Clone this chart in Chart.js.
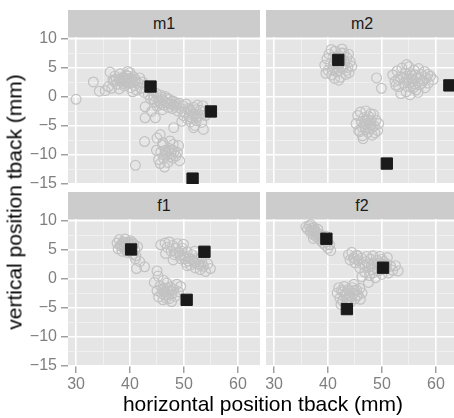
<!DOCTYPE html>
<html>
<head>
<meta charset="utf-8">
<script src="https://cdn.jsdelivr.net/npm/chart.js@4.4.1/dist/chart.umd.min.js"></script>
<style>
  html, body { margin: 0; padding: 0; background: #fff; overflow: hidden; width: 454px; height: 418px; }
  body { position: relative; font-family: "Liberation Sans", Arial, Helvetica, sans-serif; }
  canvas { position: absolute; }
  .strip { position: absolute; width: 192px; height: 27px; line-height: 28px; background: #cccccc;
           color: #1a1a1a; font-size: 16px; text-align: center; }
  .xtitle { position: absolute; left: 68px; width: 390px; top: 392px; text-align: center; font-size: 21px; color: #000; white-space: nowrap; }
  .ytitle { position: absolute; width: 329px; height: 24px; line-height: 24px; left: -150px; top: 190px;
            text-align: center; font-size: 21px; color: #000; white-space: nowrap; transform: rotate(-90deg); }
</style>
</head>
<body>
<div class="strip" style="left:68px;top:10px">m1</div>
<div class="strip" style="left:266px;top:10px">m2</div>
<div class="strip" style="left:68px;top:192px">f1</div>
<div class="strip" style="left:266px;top:192px">f2</div>
<canvas id="m1" width="260" height="167" style="left:0;top:27px"></canvas>
<canvas id="m2" width="192" height="147" style="left:266px;top:37px"></canvas>
<canvas id="f1" width="260" height="191" style="left:0;top:209px"></canvas>
<canvas id="f2" width="202" height="181" style="left:256px;top:219px"></canvas>
<div class="xtitle">horizontal position tback (mm)</div>
<div class="ytitle">vertical position tback (mm)</div>
<script>
// facets
const panelNames = ["m1", "m2", "f1", "f2"];

// axes
const xMajor = [30, 40, 50, 60];
const xMinor = [35, 45, 55];
const yMajor = [-15, -10, -5, 0, 5, 10];
const yMinor = [-12.5, -7.5, -2.5, 2.5, 7.5];
const xRange = [28.5, 64.1];
const yRange = [-15.03, 10.36];

// grey circles = tokens, black squares = targets  ([x, y] in mm)
const m1Tokens = [
  [30.0,-0.4],[33.2,2.6],[35.4,1.1],[36.3,4.3],[34.3,1.0],[36.0,1.8],[36.8,2.9],[37.2,3.6],[37.6,2.2],[37.9,3.1],
  [38.2,4.0],[38.4,2.6],[38.7,3.4],[38.9,1.9],[39.1,2.9],[39.3,3.8],[39.5,2.4],[39.8,3.2],[40.0,4.2],[40.1,1.6],
  [40.3,2.7],[40.6,3.5],[40.8,2.0],[41.0,3.0],[41.2,1.2],[41.5,2.4],[41.8,3.3],[42.0,1.5],[42.3,2.6],[42.6,0.8],
  [43.0,2.0],[36.6,1.5],[37.0,2.7],[38.0,1.4],[39.6,4.4],[40.5,0.9],
  [38.5,3.0],[39.0,3.3],[39.4,2.7],[39.9,2.5],[40.4,3.1],[38.1,2.9],[39.7,3.6],[40.9,2.6],[37.4,3.0],[38.8,2.3],
  [43.4,0.4],[43.8,-0.3],[44.1,1.0],[44.4,0.2],[44.6,-0.8],[44.9,0.6],[45.2,-0.2],[45.5,-1.0],[45.7,0.3],[46.0,-0.5],
  [46.3,-1.4],[46.5,0.1],[46.8,-0.9],[47.1,-1.8],[47.3,-0.4],[47.6,-1.2],[47.9,-2.0],[48.2,-0.8],[48.4,-1.6],[48.8,-2.4],
  [49.1,-1.1],[49.4,-2.0],[49.8,-1.5],[50.1,-2.6],[45.0,-1.6],[46.0,-2.2],[42.8,-1.7],[44.7,-3.6],[42.8,-3.6],[44.0,-2.5],
  [45.3,-0.6],[45.9,-0.1],[46.4,-0.8],[46.9,-0.2],[47.2,-1.1],[47.8,-0.7],[48.0,-1.4],[48.6,-1.2],[44.3,-0.4],[45.8,-1.3],
  [50.4,-1.2],[50.8,-2.0],[51.0,-3.0],[51.3,-2.4],[51.5,-3.6],[51.8,-1.8],[52.0,-2.9],[52.3,-4.1],[52.5,-1.4],[52.7,-3.3],
  [53.0,-2.3],[53.3,-4.4],[52.0,-4.9],[51.2,-4.3],[50.6,-3.8],[49.9,-3.2],[53.6,-5.6],[51.8,-5.3],[48.1,-5.3],[49.6,-4.2],
  [54.0,-3.2],[53.5,-1.5],[51.1,-2.2],[51.6,-2.9],[52.2,-2.2],[52.4,-3.5],[50.9,-3.4],
  [42.7,-7.7],[45.0,-7.1],[45.6,-6.5],[49.0,-8.4],[46.4,-12.1],[41.0,-11.8],[49.2,-11.0],[45.3,-10.8],[46.0,-8.3],[46.5,-9.2],
  [46.9,-10.0],[47.3,-8.9],[47.6,-9.8],[47.9,-10.6],[48.2,-9.4],[48.5,-10.2],[46.2,-10.6],[47.0,-11.3],[45.7,-9.5],[48.0,-8.2],
  [47.4,-7.6],[46.1,-7.9],[48.8,-9.6],[45.6,-11.5],[44.9,-9.2],[46.7,-9.6],[47.1,-9.3],[47.5,-10.3],[46.4,-10.1],[47.8,-9.1]
];
const m1Targets = [[43.8,1.8],[55.0,-2.5],[51.6,-14.1]];

const m2Tokens = [
  [39.4,5.5],[39.8,6.6],[40.0,4.6],[40.2,7.4],[40.5,5.8],[40.7,3.8],[40.9,6.9],[41.1,5.0],[41.3,7.9],[41.5,6.2],
  [41.7,4.3],[41.9,5.6],[42.1,7.1],[42.3,3.4],[42.5,6.4],[42.7,4.9],[42.9,7.6],[43.1,5.7],[43.3,3.9],[43.5,6.8],
  [43.7,5.1],[43.9,4.2],[44.1,6.1],[44.4,5.3],[42.0,2.9],[41.2,3.2],[40.6,8.2],[42.6,8.3],[43.8,7.4],[39.6,4.1],
  [41.8,6.8],[42.4,5.2],[41.0,5.6],[41.6,5.2],[42.2,6.0],[42.8,5.4],[41.4,6.6],[42.0,4.6],[43.0,6.3],[40.8,4.6],
  [43.4,4.6],[42.4,7.6],
  [49.0,3.3],[49.9,1.5],
  [52.0,3.8],[52.4,2.7],[52.8,4.5],[53.1,1.8],[53.4,3.4],[53.7,5.0],[54.0,2.4],[54.3,4.1],[54.5,0.9],[54.8,3.0],
  [55.0,5.2],[55.3,1.7],[55.5,3.8],[55.8,2.6],[56.0,4.6],[56.3,1.2],[56.5,3.3],[56.8,4.9],[57.0,2.1],[57.3,3.9],
  [57.6,2.8],[57.9,4.4],[58.2,3.3],[58.6,2.4],[59.0,3.6],[59.5,3.0],[55.2,0.4],[53.5,0.6],[56.7,0.8],[54.6,5.6],
  [52.6,2.0],[58.0,1.6],[54.5,3.3],[55.0,2.5],[55.6,3.1],[56.1,2.2],[56.2,3.8],[55.2,4.2],[57.0,3.2],[54.0,3.4],
  [57.4,2.4],[53.0,3.0],[58.5,3.9],[55.8,1.6],
  [45.2,-4.6],[45.5,-3.2],[45.7,-5.8],[46.0,-2.6],[46.2,-4.3],[46.4,-6.7],[46.6,-3.6],[46.8,-5.2],[47.0,-2.4],[47.2,-4.7],
  [47.4,-6.1],[47.6,-3.4],[47.8,-5.5],[48.0,-4.1],[48.2,-6.6],[48.4,-3.0],[48.6,-5.0],[48.9,-4.0],[49.2,-5.8],[49.4,-4.6],
  [46.5,-7.2],[45.9,-6.0],[47.9,-2.9],[48.7,-6.2],[46.9,-4.2],[47.3,-3.9],[47.6,-4.6],[47.0,-5.6],[46.3,-5.2],[48.2,-5.2],
  [47.9,-4.9],[46.7,-4.7]
];
const m2Targets = [[41.9,6.4],[62.5,2.0],[50.9,-11.5]];

const f1Tokens = [
  [37.6,6.2],[37.8,5.2],[38.0,6.8],[38.2,5.7],[38.5,4.8],[38.7,6.4],[38.9,5.4],[39.1,6.9],[39.3,5.9],[39.5,4.6],
  [39.7,6.3],[39.9,5.1],[40.1,6.6],[40.3,5.5],[40.5,4.3],[40.7,6.0],[40.9,5.0],[41.1,4.0],[41.4,5.6],[41.0,3.5],
  [38.4,5.9],[39.2,5.0],[40.0,6.0],[38.6,6.0],[39.0,6.3],[39.5,5.5],[39.9,5.8],[40.4,6.3],[38.9,5.7],
  [41.2,1.8],[42.7,2.1],[45.0,1.4],[41.8,3.0],
  [45.7,5.9],[46.5,6.2],[46.9,5.5],[47.3,6.4],[47.6,4.8],[47.9,5.8],[48.2,4.2],[48.5,5.3],[48.8,6.1],[49.1,4.6],
  [49.4,3.5],[49.7,5.3],[50.0,4.0],[50.3,2.9],[50.6,4.7],[50.9,3.6],[51.2,2.4],[51.5,4.2],[51.8,3.1],[52.1,1.9],
  [52.4,3.6],[52.7,2.6],[53.0,1.6],[53.3,3.0],[53.6,2.2],[54.0,1.3],[54.4,2.6],[54.9,1.8],[48.0,3.3],[46.6,4.4],
  [49.9,6.0],[52.0,4.8],[48.6,4.5],[49.3,4.1],[50.2,3.5],[50.8,3.1],[51.4,3.4],[52.0,2.8],[53.0,2.4],[49.6,4.8],
  [50.6,2.3],[52.7,3.4],
  [44.5,-0.6],[45.0,-2.0],[45.3,-3.1],[45.6,-1.2],[45.9,-2.5],[46.1,-3.6],[46.3,-1.6],[46.6,-2.8],[46.8,-0.7],[47.0,-2.1],
  [47.3,-3.4],[47.5,-1.4],[47.8,-2.6],[48.1,-1.8],[48.4,-3.0],[48.7,-0.9],[49.0,-2.2],[49.4,-1.3],[46.2,-0.2],[47.7,-3.9],
  [45.2,0.5],[46.4,-2.2],[46.9,-1.6],[47.2,-2.7],[46.0,-1.9],[47.6,-2.0],[46.7,-3.3]
];
const f1Targets = [[40.2,5.1],[53.8,4.7],[50.5,-3.6]];

const f2Tokens = [
  [35.9,9.0],[36.2,8.6],[36.5,9.2],[36.7,8.1],[37.0,8.7],[37.2,7.7],[37.4,8.9],[37.6,8.2],[37.8,7.3],[38.0,8.0],
  [38.3,7.0],[38.5,7.7],[38.7,6.6],[38.9,7.3],[39.1,6.2],[39.3,6.9],[39.5,5.8],[39.8,6.5],[40.0,5.3],[40.3,5.9],
  [40.5,4.9],[38.1,8.6],[36.8,9.4],[39.6,7.4],[37.3,7.0],[37.7,7.8],[38.4,7.4],[36.9,8.4],[39.0,6.8],[37.5,8.5],
  [43.8,4.2],[44.1,3.3],[44.4,4.6],[44.7,3.7],[45.0,2.8],[45.3,4.1],[45.6,3.2],[45.9,1.9],[46.2,3.6],[46.5,2.5],
  [46.8,1.2],[47.1,3.0],[47.4,2.0],[47.7,0.6],[47.9,3.4],[48.2,1.6],[48.5,2.6],[48.8,0.2],[49.1,3.2],[49.4,1.4],
  [49.7,2.4],[50.0,0.8],[50.3,3.0],[50.6,1.8],[50.9,2.6],[51.2,1.0],[51.6,2.2],[52.0,1.5],[52.5,2.3],[53.0,1.4],
  [47.5,-0.6],[46.3,0.4],[49.6,3.9],[48.3,4.0],[51.0,3.7],[48.0,2.3],[48.7,2.0],[49.3,2.7],[47.6,2.6],[49.8,1.7],
  [50.5,2.4],[48.4,1.1],[46.9,2.3],[47.2,3.9],[50.0,3.4],[45.5,4.0],[44.9,3.5],
  [41.7,-2.4],[42.0,-1.5],[42.2,-3.3],[42.5,-2.0],[42.7,-3.8],[43.0,-1.3],[43.2,-2.7],[43.5,-3.6],[43.7,-1.8],[44.0,-2.9],
  [44.2,-4.0],[44.5,-1.5],[44.7,-2.5],[45.0,-3.4],[45.3,-1.9],[45.6,-2.8],[45.9,-1.6],[46.3,-2.4],[43.4,-4.3],[44.8,-0.9],
  [42.4,-4.4],[46.0,-3.5],[43.4,-2.4],[43.9,-2.0],[44.4,-3.1],[43.0,-3.0],[44.9,-2.0],[43.8,-3.4],[45.3,-2.9],[42.8,-2.2]
];
const f2Targets = [[39.7,6.95],[50.2,1.95],[43.5,-5.2]];

const PANEL_BG = "#e5e5e5";
const TICK_GREY = "#7f7f7f";

const panelBg = {
  id: "panelBg",
  beforeDraw(chart) {
    const a = chart.chartArea, ctx = chart.ctx;
    ctx.save();
    ctx.fillStyle = PANEL_BG;
    ctx.fillRect(a.left, a.top, a.right - a.left, a.bottom - a.top);
    ctx.restore();
  }
};

function fmt(v) { return v < 0 ? "\u2212" + Math.abs(v) : String(v); }

function axis(range, major, minor, show, isX) {
  const all = major.concat(minor).sort((a, b) => a - b);
  const isMaj = c => c.tick && major.includes(c.tick.value);
  return {
    type: "linear", min: range[0], max: range[1],
    afterBuildTicks: s => { s.ticks = all.map(v => ({ value: v })); },
    afterFit: s => {
      if (isX) { s.height = show ? 34 : 0; s.paddingLeft = 0; s.paddingRight = 0; }
      else { s.width = show ? 68 : 0; s.paddingTop = 0; s.paddingBottom = 0; }
    },
    border: { display: false },
    grid: {
      color: c => isMaj(c) ? "#ffffff" : "#f2f2f2",
      lineWidth: c => isMaj(c) ? 1.6 : 0.8,
      drawTicks: show, tickLength: 7, tickWidth: 1.1,
      tickColor: c => isMaj(c) ? TICK_GREY : "rgba(0,0,0,0)"
    },
    ticks: {
      display: show, autoSkip: false, maxRotation: 0, padding: isX ? 2 : 4,
      color: TICK_GREY, font: { family: "'Liberation Sans', Arial, sans-serif", size: 16 },
      callback: v => major.includes(v) ? fmt(v) : ""
    }
  };
}

function makePanel(id, tokens, targets, showY, showX, pad) {
  const pts = a => a.map(([x, y]) => ({ x, y }));
  new Chart(document.getElementById(id), {
    type: "scatter",
    data: {
      datasets: [
        { data: pts(targets), pointStyle: "rect", pointRadius: 8, backgroundColor: "#1a1a1a", borderColor: "#1a1a1a", borderWidth: 1 },
        { data: pts(tokens), pointStyle: "circle", pointRadius: 4.9, backgroundColor: "rgba(0,0,0,0)", borderColor: "#c2c2c2", borderWidth: 1.2 }
      ]
    },
    options: {
      responsive: false, animation: false, events: [], devicePixelRatio: 1,
      layout: { padding: pad, autoPadding: false },
      plugins: { legend: { display: false }, tooltip: { enabled: false } },
      scales: {
        x: axis(xRange, xMajor, xMinor, showX, true),
        y: axis(yRange, yMajor, yMinor, showY, false)
      }
    },
    plugins: [panelBg]
  });
}

makePanel(panelNames[0], m1Tokens, m1Targets, true, false, { top: 10, bottom: 10, left: 0, right: 0 });
makePanel(panelNames[1], m2Tokens, m2Targets, false, false, 0);
makePanel(panelNames[2], f1Tokens, f1Targets, true, true, { top: 10, bottom: 0, left: 0, right: 0 });
makePanel(panelNames[3], f2Tokens, f2Targets, false, true, { top: 0, bottom: 0, left: 10, right: 0 });
</script>
</body>
</html>
